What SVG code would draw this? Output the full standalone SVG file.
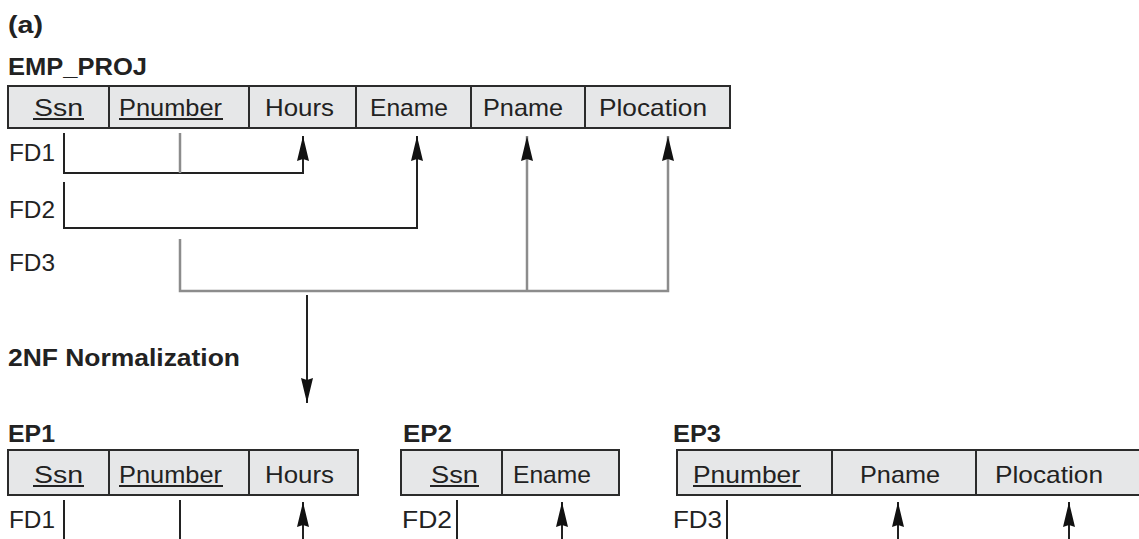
<svg xmlns="http://www.w3.org/2000/svg" width="1139" height="539" viewBox="0 0 1139 539">
<style>
text{font-family:"Liberation Sans",Arial,sans-serif;fill:#222;}
.t{font-size:24px;font-weight:bold;}
.c{font-size:24px;}
.cell{fill:#e6e7e8;stroke:#2b2b2b;stroke-width:2;}
.div{stroke:#2b2b2b;stroke-width:2;}
.ul{stroke:#222;stroke-width:1.8;}
.k{fill:none;stroke:#222;stroke-width:2;}
.g{fill:none;stroke:#8c8c8c;stroke-width:2.5;}
</style>
<defs>
<marker id="ah" markerUnits="userSpaceOnUse" markerWidth="26" markerHeight="14" refX="25" refY="7" orient="auto" viewBox="0 0 26 14">
<path d="M0,1 L25,7 L0,13 L2,7 z" fill="#111"/>
</marker>
</defs>
<text class="t" x="8" y="33" textLength="35" lengthAdjust="spacingAndGlyphs">(a)</text>
<text class="t" x="8" y="75" textLength="139" lengthAdjust="spacingAndGlyphs">EMP_PROJ</text>
<g id="emp_proj">
<rect class="cell" x="8" y="86" width="722" height="42"/>
<line class="div" x1="109" y1="86" x2="109" y2="128"/>
<line class="div" x1="249" y1="86" x2="249" y2="128"/>
<line class="div" x1="356" y1="86" x2="356" y2="128"/>
<line class="div" x1="471" y1="86" x2="471" y2="128"/>
<line class="div" x1="585" y1="86" x2="585" y2="128"/>
<text class="c" x="34" y="116" textLength="49" lengthAdjust="spacingAndGlyphs">Ssn</text>
<line class="ul" x1="33" y1="119" x2="84" y2="119"/>
<text class="c" x="119" y="116" textLength="103" lengthAdjust="spacingAndGlyphs">Pnumber</text>
<line class="ul" x1="119" y1="119" x2="223" y2="119"/>
<text class="c" x="265" y="116" textLength="69" lengthAdjust="spacingAndGlyphs">Hours</text>
<text class="c" x="370" y="116" textLength="78" lengthAdjust="spacingAndGlyphs">Ename</text>
<text class="c" x="483" y="116" textLength="80" lengthAdjust="spacingAndGlyphs">Pname</text>
<text class="c" x="599" y="116" textLength="108" lengthAdjust="spacingAndGlyphs">Plocation</text>
</g>
<g id="fd_labels">
<text class="c" x="9" y="161" textLength="46" lengthAdjust="spacingAndGlyphs">FD1</text>
<text class="c" x="9" y="218" textLength="46" lengthAdjust="spacingAndGlyphs">FD2</text>
<text class="c" x="9" y="271" textLength="46" lengthAdjust="spacingAndGlyphs">FD3</text>
<text class="t" x="8" y="366" textLength="232" lengthAdjust="spacingAndGlyphs">2NF Normalization</text>
</g>
<g id="connectors">
<polyline class="k" points="64,133 64,173 303,173 303,136" marker-end="url(#ah)"/>
<line class="g" x1="180" y1="133" x2="180" y2="173"/>
<polyline class="k" points="64,182 64,228 417,228 417,136" marker-end="url(#ah)"/>
<polyline class="g" points="180,239 180,291 668,291 668,136" marker-end="url(#ah)"/>
<line class="g" x1="527" y1="291" x2="527" y2="136" marker-end="url(#ah)"/>
<line class="k" x1="307" y1="295" x2="307" y2="403" marker-end="url(#ah)"/>
<line class="k" x1="64" y1="500" x2="64" y2="539"/>
<line class="k" x1="180" y1="500" x2="180" y2="539"/>
<line class="k" x1="303" y1="545" x2="303" y2="502" marker-end="url(#ah)"/>
<line class="k" x1="457" y1="500" x2="457" y2="539"/>
<line class="k" x1="562" y1="545" x2="562" y2="502" marker-end="url(#ah)"/>
<line class="k" x1="727" y1="500" x2="727" y2="539"/>
<line class="k" x1="898" y1="545" x2="898" y2="502" marker-end="url(#ah)"/>
<line class="k" x1="1069" y1="545" x2="1069" y2="502" marker-end="url(#ah)"/>
</g>
<g id="ep1">
<text class="t" x="8" y="442" textLength="47" lengthAdjust="spacingAndGlyphs">EP1</text>
<rect class="cell" x="8" y="450" width="350" height="45"/>
<line class="div" x1="109" y1="450" x2="109" y2="495"/>
<line class="div" x1="249" y1="450" x2="249" y2="495"/>
<text class="c" x="34" y="483" textLength="49" lengthAdjust="spacingAndGlyphs">Ssn</text>
<line class="ul" x1="33" y1="486" x2="84" y2="486"/>
<text class="c" x="119" y="483" textLength="103" lengthAdjust="spacingAndGlyphs">Pnumber</text>
<line class="ul" x1="119" y1="486" x2="223" y2="486"/>
<text class="c" x="265" y="483" textLength="69" lengthAdjust="spacingAndGlyphs">Hours</text>
<text class="c" x="9" y="528" textLength="46" lengthAdjust="spacingAndGlyphs">FD1</text>
</g>
<g id="ep2">
<text class="t" x="403" y="442" textLength="49" lengthAdjust="spacingAndGlyphs">EP2</text>
<rect class="cell" x="401" y="450" width="218" height="45"/>
<line class="div" x1="502" y1="450" x2="502" y2="495"/>
<text class="c" x="431" y="483" textLength="47" lengthAdjust="spacingAndGlyphs">Ssn</text>
<line class="ul" x1="430" y1="486" x2="479" y2="486"/>
<text class="c" x="513" y="483" textLength="78" lengthAdjust="spacingAndGlyphs">Ename</text>
<text class="c" x="402" y="528" textLength="50" lengthAdjust="spacingAndGlyphs">FD2</text>
</g>
<g id="ep3">
<text class="t" x="673" y="442" textLength="48" lengthAdjust="spacingAndGlyphs">EP3</text>
<rect class="cell" x="677" y="450" width="470" height="45"/>
<line class="div" x1="832" y1="450" x2="832" y2="495"/>
<line class="div" x1="976" y1="450" x2="976" y2="495"/>
<text class="c" x="693" y="483" textLength="107" lengthAdjust="spacingAndGlyphs">Pnumber</text>
<line class="ul" x1="693" y1="486" x2="801" y2="486"/>
<text class="c" x="860" y="483" textLength="80" lengthAdjust="spacingAndGlyphs">Pname</text>
<text class="c" x="995" y="483" textLength="108" lengthAdjust="spacingAndGlyphs">Plocation</text>
<text class="c" x="673" y="528" textLength="49" lengthAdjust="spacingAndGlyphs">FD3</text>
</g>
</svg>
